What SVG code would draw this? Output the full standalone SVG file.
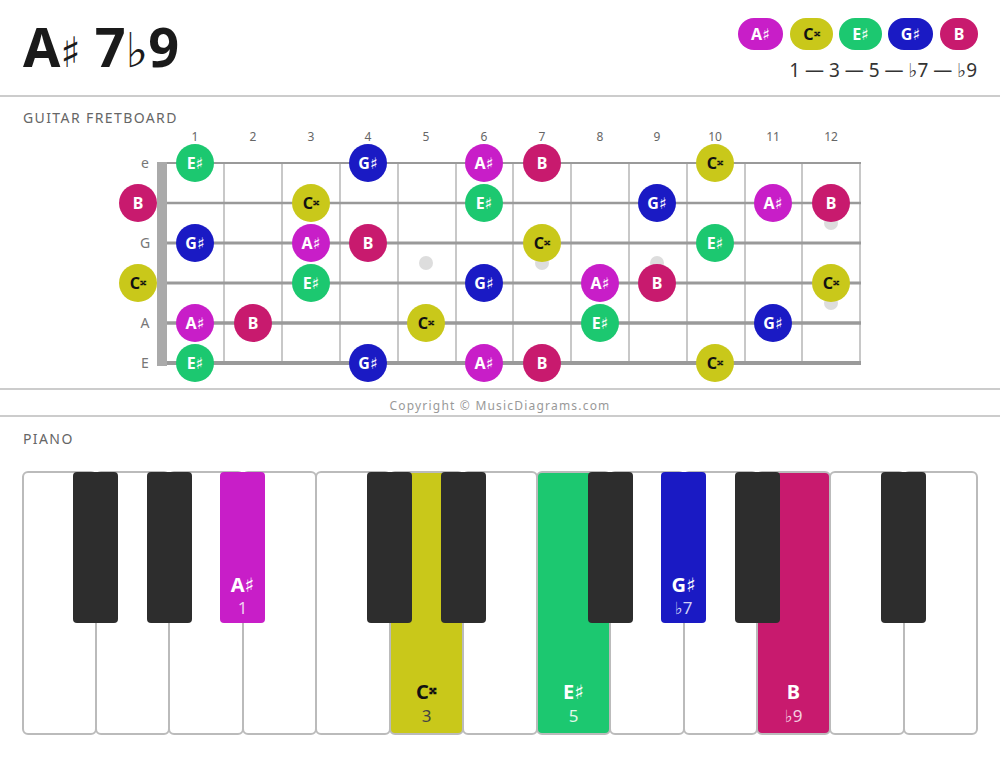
<svg xmlns="http://www.w3.org/2000/svg" width="1000" height="759" viewBox="0 0 1000 759">
<style>
text{font-family:"Noto Sans","Open Sans","DejaVu Sans",sans-serif}
.acc{font-family:"DejaVu Sans",sans-serif}
.dx{font-size:0.85em}
.div{stroke:#cccccc;stroke-width:2}
.sec{font-size:14px;fill:#666;letter-spacing:1.4px}
.fn{font-size:12px;fill:#666;text-anchor:middle}
.sl{font-size:14px;fill:#777;text-anchor:middle}
.str{stroke:#9a9a9a}
.fret{stroke:#c8c8c8;stroke-width:2}
.dot{fill:#dddddd}
.nt{font-size:16px;font-weight:bold;fill:#fff;text-anchor:middle}
.dk{fill:#111}
.as{fill:#c81ec8}.cx{fill:#c9c81a}.es{fill:#1cc870}.gs{fill:#1a1ac4}.b{fill:#c81a6e}
.wk{fill:#fff;stroke:#bbbbbb;stroke-width:2}
.bk{fill:#2d2d2d}
.pl{font-size:20px;font-weight:bold;text-anchor:middle;fill:#fff}
.pn{font-size:17px;text-anchor:middle;fill:#fff}
</style>
<rect width="1000" height="759" fill="#fff"/>
<g id="title">
<text x="23" y="67" font-size="54" font-weight="bold" fill="#1a1a1a">A<tspan class="acc" font-weight="normal" font-size="42">♯</tspan> 7<tspan class="acc" font-weight="normal" font-size="48">♭</tspan>9</text>
</g>
<g id="legend">
<rect x="738" y="18" width="45" height="32" rx="16" class="as"/><text x="760.5" y="40" class="nt">A♯</text>
<rect x="790" y="18" width="43" height="32" rx="16" class="cx"/><text x="811.5" y="40" class="nt dk">C<tspan class="dx" dy="-4">𝄪</tspan></text>
<rect x="839" y="18" width="43" height="32" rx="16" class="es"/><text x="860.5" y="40" class="nt">E♯</text>
<rect x="888" y="18" width="45" height="32" rx="16" class="gs"/><text x="910.5" y="40" class="nt">G♯</text>
<rect x="940" y="18" width="38" height="32" rx="16" class="b"/><text x="959" y="40" class="nt">B</text>
<text x="977" y="77" font-size="19" fill="#333" text-anchor="end">1 — 3 — 5 — <tspan class="acc">♭</tspan>7 — <tspan class="acc">♭</tspan>9</text>
</g>
<line x1="0" y1="96" x2="1000" y2="96" class="div"/>
<text x="23" y="123" class="sec">GUITAR FRETBOARD</text>
<g id="fretboard">
<g id="fret-numbers">
<text x="195" y="141" class="fn">1</text><text x="253" y="141" class="fn">2</text><text x="311" y="141" class="fn">3</text><text x="368" y="141" class="fn">4</text><text x="426" y="141" class="fn">5</text><text x="484" y="141" class="fn">6</text><text x="542" y="141" class="fn">7</text><text x="600" y="141" class="fn">8</text><text x="657" y="141" class="fn">9</text><text x="715" y="141" class="fn">10</text><text x="773" y="141" class="fn">11</text><text x="831" y="141" class="fn">12</text>
</g>
<g id="string-labels">
<text x="145" y="168" class="sl">e</text><text x="145" y="248" class="sl">G</text><text x="145" y="328" class="sl">A</text><text x="145" y="368" class="sl">E</text>
</g>
<g id="frets">
<line x1="224" y1="163" x2="224" y2="363" class="fret"/><line x1="282" y1="163" x2="282" y2="363" class="fret"/><line x1="340" y1="163" x2="340" y2="363" class="fret"/><line x1="398" y1="163" x2="398" y2="363" class="fret"/><line x1="456" y1="163" x2="456" y2="363" class="fret"/><line x1="513" y1="163" x2="513" y2="363" class="fret"/><line x1="571" y1="163" x2="571" y2="363" class="fret"/><line x1="629" y1="163" x2="629" y2="363" class="fret"/><line x1="687" y1="163" x2="687" y2="363" class="fret"/><line x1="745" y1="163" x2="745" y2="363" class="fret"/><line x1="802" y1="163" x2="802" y2="363" class="fret"/><line x1="860" y1="163" x2="860" y2="363" class="fret" stroke="#aaa"/>
</g>
<g id="markers">
<circle cx="426" cy="263" r="7" class="dot"/><circle cx="542" cy="263" r="7" class="dot"/><circle cx="657" cy="263" r="7" class="dot"/><circle cx="831" cy="223" r="7" class="dot"/><circle cx="831" cy="303" r="7" class="dot"/>
</g>
<g id="strings">
<line x1="157" y1="163" x2="861" y2="163" class="str" stroke-width="2"/>
<line x1="157" y1="203" x2="861" y2="203" class="str" stroke-width="2.4"/>
<line x1="157" y1="243" x2="861" y2="243" class="str" stroke-width="2.8"/>
<line x1="157" y1="283" x2="861" y2="283" class="str" stroke-width="3.2"/>
<line x1="157" y1="323" x2="861" y2="323" class="str" stroke-width="3.6"/>
<line x1="157" y1="363" x2="861" y2="363" class="str" stroke-width="4"/>
</g>
<rect id="nut" x="157" y="162" width="10" height="204" fill="#aaaaaa"/>
<g id="notes">
<g><circle cx="195" cy="163" r="19" class="es"/><text x="195" y="169" class="nt">E♯</text></g>
<g><circle cx="368" cy="163" r="19" class="gs"/><text x="368" y="169" class="nt">G♯</text></g>
<g><circle cx="484" cy="163" r="19" class="as"/><text x="484" y="169" class="nt">A♯</text></g>
<g><circle cx="542" cy="163" r="19" class="b"/><text x="542" y="169" class="nt">B</text></g>
<g><circle cx="715" cy="163" r="19" class="cx"/><text x="715" y="169" class="nt dk">C<tspan class="dx" dy="-4">𝄪</tspan></text></g>

<g><circle cx="138" cy="203" r="19" class="b"/><text x="138" y="209" class="nt">B</text></g>
<g><circle cx="311" cy="203" r="19" class="cx"/><text x="311" y="209" class="nt dk">C<tspan class="dx" dy="-4">𝄪</tspan></text></g>
<g><circle cx="484" cy="203" r="19" class="es"/><text x="484" y="209" class="nt">E♯</text></g>
<g><circle cx="657" cy="203" r="19" class="gs"/><text x="657" y="209" class="nt">G♯</text></g>
<g><circle cx="773" cy="203" r="19" class="as"/><text x="773" y="209" class="nt">A♯</text></g>
<g><circle cx="831" cy="203" r="19" class="b"/><text x="831" y="209" class="nt">B</text></g>

<g><circle cx="195" cy="243" r="19" class="gs"/><text x="195" y="249" class="nt">G♯</text></g>
<g><circle cx="311" cy="243" r="19" class="as"/><text x="311" y="249" class="nt">A♯</text></g>
<g><circle cx="368" cy="243" r="19" class="b"/><text x="368" y="249" class="nt">B</text></g>
<g><circle cx="542" cy="243" r="19" class="cx"/><text x="542" y="249" class="nt dk">C<tspan class="dx" dy="-4">𝄪</tspan></text></g>
<g><circle cx="715" cy="243" r="19" class="es"/><text x="715" y="249" class="nt">E♯</text></g>

<g><circle cx="138" cy="283" r="19" class="cx"/><text x="138" y="289" class="nt dk">C<tspan class="dx" dy="-4">𝄪</tspan></text></g>
<g><circle cx="311" cy="283" r="19" class="es"/><text x="311" y="289" class="nt">E♯</text></g>
<g><circle cx="484" cy="283" r="19" class="gs"/><text x="484" y="289" class="nt">G♯</text></g>
<g><circle cx="600" cy="283" r="19" class="as"/><text x="600" y="289" class="nt">A♯</text></g>
<g><circle cx="657" cy="283" r="19" class="b"/><text x="657" y="289" class="nt">B</text></g>
<g><circle cx="831" cy="283" r="19" class="cx"/><text x="831" y="289" class="nt dk">C<tspan class="dx" dy="-4">𝄪</tspan></text></g>

<g><circle cx="195" cy="323" r="19" class="as"/><text x="195" y="329" class="nt">A♯</text></g>
<g><circle cx="253" cy="323" r="19" class="b"/><text x="253" y="329" class="nt">B</text></g>
<g><circle cx="426" cy="323" r="19" class="cx"/><text x="426" y="329" class="nt dk">C<tspan class="dx" dy="-4">𝄪</tspan></text></g>
<g><circle cx="600" cy="323" r="19" class="es"/><text x="600" y="329" class="nt">E♯</text></g>
<g><circle cx="773" cy="323" r="19" class="gs"/><text x="773" y="329" class="nt">G♯</text></g>

<g><circle cx="195" cy="363" r="19" class="es"/><text x="195" y="369" class="nt">E♯</text></g>
<g><circle cx="368" cy="363" r="19" class="gs"/><text x="368" y="369" class="nt">G♯</text></g>
<g><circle cx="484" cy="363" r="19" class="as"/><text x="484" y="369" class="nt">A♯</text></g>
<g><circle cx="542" cy="363" r="19" class="b"/><text x="542" y="369" class="nt">B</text></g>
<g><circle cx="715" cy="363" r="19" class="cx"/><text x="715" y="369" class="nt dk">C<tspan class="dx" dy="-4">𝄪</tspan></text></g>
</g>
</g>
<line x1="0" y1="389" x2="1000" y2="389" class="div"/>
<text x="500" y="410" font-size="12" fill="#999" text-anchor="middle" letter-spacing="1.2">Copyright © MusicDiagrams.com</text>
<line x1="0" y1="416" x2="1000" y2="416" class="div"/>
<text x="23" y="444" class="sec">PIANO</text>
<g id="piano">
<g id="white-keys">
<rect x="23" y="472" width="73" height="262" rx="5" class="wk"/>
<rect x="96" y="472" width="73" height="262" rx="5" class="wk"/>
<rect x="169" y="472" width="74" height="262" rx="5" class="wk"/>
<rect x="243" y="472" width="73" height="262" rx="5" class="wk"/>
<rect x="316" y="472" width="74" height="262" rx="5" class="wk"/>
<rect x="390" y="472" width="73" height="262" rx="5" class="wk" style="fill:#c9c81a"/>
<rect x="463" y="472" width="74" height="262" rx="5" class="wk"/>
<rect x="537" y="472" width="73" height="262" rx="5" class="wk" style="fill:#1cc870"/>
<rect x="610" y="472" width="74" height="262" rx="5" class="wk"/>
<rect x="684" y="472" width="73" height="262" rx="5" class="wk"/>
<rect x="757" y="472" width="73" height="262" rx="5" class="wk" style="fill:#c81a6e"/>
<rect x="830" y="472" width="74" height="262" rx="5" class="wk"/>
<rect x="904" y="472" width="73" height="262" rx="5" class="wk"/>
</g>
<g id="black-keys">
<rect x="73" y="472" width="45" height="151" rx="4" class="bk"/>
<rect x="147" y="472" width="45" height="151" rx="4" class="bk"/>
<rect x="220" y="472" width="45" height="151" rx="4" class="as"/>
<rect x="367" y="472" width="45" height="151" rx="4" class="bk"/>
<rect x="441" y="472" width="45" height="151" rx="4" class="bk"/>
<rect x="588" y="472" width="45" height="151" rx="4" class="bk"/>
<rect x="661" y="472" width="45" height="151" rx="4" class="gs"/>
<rect x="735" y="472" width="45" height="151" rx="4" class="bk"/>
<rect x="881" y="472" width="45" height="151" rx="4" class="bk"/>
</g>
<g id="key-labels">
<text x="242.5" y="592" class="pl">A♯</text><text x="242.5" y="614" class="pn" style="fill:#f0d0f0">1</text>
<text x="683.5" y="592" class="pl">G♯</text><text x="683.5" y="614" class="pn" style="fill:#d0d0f4">♭7</text>
<text x="426.5" y="699" class="pl" style="fill:#111">C<tspan class="dx" dy="-5">𝄪</tspan></text><text x="426.5" y="722" class="pn" style="fill:#444">3</text>
<text x="573.5" y="699" class="pl">E♯</text><text x="573.5" y="722" class="pn" style="fill:#e0f8ea">5</text>
<text x="793.5" y="699" class="pl">B</text><text x="793.5" y="722" class="pn" style="fill:#f4d0e0">♭9</text>
</g>
</g>
</svg>
